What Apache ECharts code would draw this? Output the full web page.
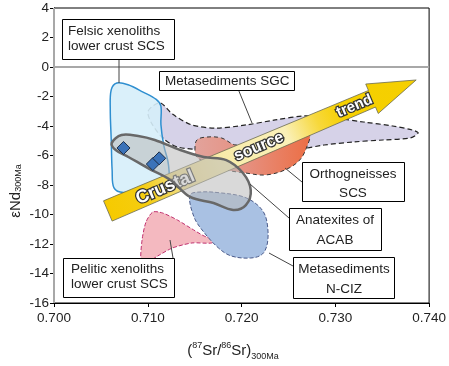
<!DOCTYPE html>
<html>
<head>
<meta charset="utf-8">
<script src="https://cdn.jsdelivr.net/npm/echarts@6/dist/echarts.min.js"></script>
<style>
  html, body { margin: 0; padding: 0; background: #fff; }
  #main { width: 449px; height: 366px; }
</style>
</head>
<body>
<div id="main"></div>
<script>
// axis ranges
var xMin = 0.700, xMax = 0.740, xStep = 0.010;
var yMin = -16, yMax = 4, yStep = 2;

// reference lines (bulk earth)
var srRef = 0.7037;
var ndRef = 0;

// fields, as [87Sr/86Sr, eNd] outlines
var metasedSGC = [
  [0.71138, -2.44], [0.71263, -3.19], [0.71472, -3.93], [0.71733, -4.14], [0.72046, -3.93],
  [0.72359, -3.59], [0.72672, -3.32], [0.72985, -3.46], [0.73299, -3.73], [0.73612, -4.00],
  [0.73820, -4.27], [0.73883, -4.47], [0.73800, -4.81], [0.73507, -4.95], [0.73194, -5.08],
  [0.72881, -5.29], [0.72568, -5.63], [0.72255, -5.83], [0.71942, -5.76], [0.71628, -5.63],
  [0.71315, -5.42], [0.71159, -4.81], [0.71033, -3.73], [0.71002, -3.05], [0.71054, -2.64]
];
var felsicXeno = [
  [0.7067, -1.08], [0.7079, -1.20], [0.7095, -1.70], [0.7109, -2.20], [0.7114, -2.65],
  [0.7114, -3.90], [0.7117, -5.30], [0.7122, -6.60], [0.7121, -7.70], [0.7102, -8.20],
  [0.7074, -8.50], [0.7064, -8.20], [0.7062, -7.00], [0.7061, -4.90], [0.7060, -2.90],
  [0.7061, -1.55]
];
var orthoSCS = [
  [0.71503, -5.63], [0.71524, -4.95], [0.71628, -4.75], [0.71785, -4.81], [0.71942, -5.29],
  [0.72150, -4.95], [0.72411, -4.61], [0.72620, -4.27], [0.72724, -4.61], [0.72704, -5.29],
  [0.72620, -6.31], [0.72463, -6.98], [0.72255, -7.32], [0.72046, -7.19], [0.71837, -6.98],
  [0.71628, -6.51], [0.71524, -6.10]
];
var peliticXeno = [
  [0.70929, -13.22], [0.70939, -11.73], [0.70981, -10.51], [0.71054, -9.83], [0.71159, -9.90],
  [0.71315, -10.37], [0.71472, -10.98], [0.71628, -11.53], [0.71785, -11.59], [0.71681, -11.93],
  [0.71472, -11.93], [0.71263, -12.27], [0.71106, -12.81], [0.71002, -13.22]
];
var metasedNCIZ = [
  [0.71451, -8.68], [0.71493, -10.17], [0.71597, -11.19], [0.71754, -12.27], [0.71889, -12.81],
  [0.72098, -12.95], [0.72223, -12.68], [0.72276, -11.93], [0.72276, -10.71], [0.72234, -9.83],
  [0.72129, -9.15], [0.71994, -8.75], [0.71785, -8.54], [0.71576, -8.47]
];
var anatexitesACAB = [
  [0.70616, -5.15], [0.70720, -4.61], [0.70898, -4.68], [0.71075, -4.95], [0.71347, -5.63],
  [0.71597, -6.10], [0.71837, -6.31], [0.72015, -7.19], [0.72098, -8.34], [0.72046, -9.36],
  [0.71910, -9.69], [0.71701, -9.22], [0.71451, -8.81], [0.71242, -7.66], [0.71002, -6.85],
  [0.70793, -6.10], [0.70658, -5.63]
];
// samples
var samples = [[0.70741, -5.49], [0.71054, -6.58], [0.71122, -6.19]];
// crustal source trend arrow: tail, tip
var trendArrow = [[0.70574, -9.76], [0.73862, -0.88]];
var trendWords = ['Crustal', 'source', 'trend'];

var chartDom = document.getElementById('main');
var myChart = echarts.init(chartDom);
var option;

var FONT = 'Liberation Sans, Arial, sans-serif';

function field(name, pts, style, z, smooth) {
  return {
    type: 'custom',
    name: name,
    z: z,
    silent: true,
    data: pts,
    renderItem: function (params, api) {
      if (params.dataIndex !== 0) return null;
      return {
        type: 'polygon',
        shape: { points: pts.map(function (p) { return api.coord(p); }), smooth: smooth == null ? 0.35 : smooth },
        style: style
      };
    }
  };
}

function arrowItem(params, api) {
  if (params.dataIndex !== 0) return null;
  var A = api.coord(trendArrow[0]);
  var B = api.coord(trendArrow[1]);
  var dx = B[0] - A[0], dy = B[1] - A[1];
  var len = Math.sqrt(dx * dx + dy * dy);
  var ux = dx / len, uy = dy / len;
  var nx = -uy, ny = ux;
  var headLen = 48, wT = 11, wN = 9, wH = 16;
  function P(a, w) { return [A[0] + ux * a + nx * w, A[1] + uy * a + ny * w]; }
  var pts = [P(0, -wT), P(len - headLen, -wN), P(len - headLen, -wH), B,
             P(len - headLen, wH), P(len - headLen, wN), P(0, wT)];
  var rot = Math.atan2(A[1] - B[1], B[0] - A[0]);
  var words = [[0.185, 1, 18], [0.49, 0, 16], [0.80, 0, 15]];
  var children = [{
    type: 'polygon',
    shape: { points: pts },
    style: {
      fill: {
        type: 'linear', global: true, x: A[0], y: A[1], x2: B[0], y2: B[1],
        colorStops: [
          { offset: 0, color: '#f6ca00' }, { offset: 0.12, color: '#f5cd10' },
          { offset: 0.24, color: '#f1df8c' }, { offset: 0.36, color: '#f8eba8' },
          { offset: 0.58, color: '#faf0b8' }, { offset: 0.68, color: '#f7d83c' },
          { offset: 0.76, color: '#f6d000' }, { offset: 1, color: '#f5cf00' }
        ]
      },
      stroke: '#6a6a50', lineWidth: 0.8
    }
  }];
  words.forEach(function (w, i) {
    var p = P(len * w[0], w[1]);
    children.push({
      type: 'text', x: p[0], y: p[1], rotation: rot,
      style: {
        text: trendWords[i], fill: '#fff', stroke: '#333', lineWidth: 2.5,
        font: 'bold ' + w[2] + 'px ' + FONT, align: 'center', verticalAlign: 'middle'
      }
    });
  });
  return { type: 'group', children: children };
}

var labelBoxes = [
  { box: [62, 19, 174, 59], lines: ['Felsic xenoliths', 'lower crust SCS'], ys: [31, 46], x: 68, align: 'left', lead: [119, 59, 119, 83] },
  { box: [159, 71, 294, 90], lines: ['Metasediments SGC'], ys: [81], x: 165, align: 'left', lead: [238.5, 90, 252, 123] },
  { box: [302, 162, 404, 201], lines: ['Orthogneisses', 'SCS'], ys: [174.5, 193], x: 353, align: 'center', lead: [285, 168, 302, 182] },
  { box: [289, 208, 381, 250], lines: ['Anatexites of', 'ACAB'], ys: [220.5, 240], x: 335, align: 'center', lead: [250, 184, 289, 218] },
  { box: [293, 257, 394, 298], lines: ['Metasediments', 'N-CIZ'], ys: [269, 289], x: 344, align: 'center', lead: [269, 253, 293, 266] },
  { box: [63, 258, 174, 297], lines: ['Pelitic xenoliths', 'lower crust SCS'], ys: [269.5, 284], x: 71, align: 'left', lead: [170, 240, 173, 258] }
];

var graphics = [];
labelBoxes.forEach(function (b) {
  graphics.push({ type: 'line', z: 20, shape: { x1: b.lead[0], y1: b.lead[1], x2: b.lead[2], y2: b.lead[3] }, style: { stroke: '#444', lineWidth: 1 } });
  graphics.push({ type: 'rect', z: 21, shape: { x: b.box[0] + 0.5, y: b.box[1] + 0.5, width: b.box[2] - b.box[0], height: b.box[3] - b.box[1] }, style: { fill: '#fff', stroke: '#000', lineWidth: 1 } });
  b.lines.forEach(function (t, i) {
    graphics.push({ type: 'text', z: 22, x: b.x, y: b.ys[i], style: { text: t, fill: '#222', font: '13.5px ' + FONT, align: b.align, verticalAlign: 'middle' } });
  });
});
graphics.push({
  type: 'text', z: 22, x: 16, y: 191, rotation: Math.PI / 2,
  style: {
    text: 'εNd{s|300Ma}', fill: '#222', font: '15px ' + FONT, align: 'center', verticalAlign: 'middle',
    rich: { s: { fontSize: 9, fontFamily: FONT, fill: '#222', verticalAlign: 'bottom', lineHeight: 12 } }
  }
});
graphics.push({
  type: 'text', z: 22, x: 233, y: 351,
  style: {
    text: '({u|87}Sr/{u|86}Sr){s|300Ma}', fill: '#222', font: '15px ' + FONT, align: 'center', verticalAlign: 'middle', lineHeight: 20,
    rich: {
      u: { fontSize: 9, fontFamily: FONT, fill: '#222', verticalAlign: 'top', lineHeight: 10 },
      s: { fontSize: 9, fontFamily: FONT, fill: '#222', verticalAlign: 'bottom', lineHeight: 10 }
    }
  }
});

option = {
  animation: false,
  grid: { left: 54, right: 12, top: 8, bottom: 63, show: true, borderColor: '#000', borderWidth: 1, backgroundColor: 'transparent' },
  xAxis: {
    type: 'value', min: xMin, max: xMax, interval: xStep,
    axisLine: { show: true, onZero: false, lineStyle: { color: '#000', width: 1 } },
    axisTick: { show: true, length: 4, lineStyle: { color: '#000' } },
    axisLabel: { color: '#222', fontSize: 13.5, fontFamily: FONT, margin: 8, formatter: function (v) { return v.toFixed(3); } },
    splitLine: { show: false }
  },
  yAxis: {
    type: 'value', min: yMin, max: yMax, interval: yStep,
    axisLine: { show: true, onZero: false, lineStyle: { color: '#000', width: 1 } },
    axisTick: { show: true, length: 4, lineStyle: { color: '#000' } },
    axisLabel: { color: '#222', fontSize: 13.5, fontFamily: FONT, margin: 5 },
    splitLine: { show: false }
  },
  graphic: graphics,
  series: [
    {
      type: 'line', data: [], z: 1, silent: true,
      markLine: {
        silent: true, symbol: 'none', label: { show: false },
        lineStyle: { color: '#a8a8a8', width: 2, type: 'solid' },
        data: [{ xAxis: srRef }, { yAxis: ndRef }]
      }
    },
    field('Metasediments SGC', metasedSGC, { fill: '#d6d2e8', stroke: '#222', lineWidth: 1.2, lineDash: [5, 3] }, 2, 0.3),
    field('Felsic xenoliths', felsicXeno, { fill: 'rgba(214,238,250,0.9)', stroke: '#2f8fd0', lineWidth: 1.5 }, 3, 0.35),
    field('Orthogneisses SCS', orthoSCS, {
      fill: { type: 'linear', x: 0, y: 0, x2: 1, y2: 0, colorStops: [{ offset: 0, color: '#e2a39c' }, { offset: 0.45, color: '#e69080' }, { offset: 1, color: '#ec6e44' }] },
      stroke: '#333', lineWidth: 1, lineDash: [4, 3]
    }, 4, 0.35),
    field('Pelitic xenoliths', peliticXeno, { fill: '#f4b9c0', stroke: '#c0306e', lineWidth: 1, lineDash: [4, 2] }, 4, 0.25),
    field('Metasediments N-CIZ', metasedNCIZ, { fill: '#a9c1e3', stroke: '#4a5a8a', lineWidth: 1, lineDash: [4, 2] }, 5, 0.35),
    { type: 'custom', name: 'Crustal source trend', z: 6, silent: true, data: trendArrow, renderItem: arrowItem },
    field('Anatexites of ACAB', anatexitesACAB, { fill: 'rgba(185,185,185,0.55)', stroke: '#686868', lineWidth: 2.5 }, 7, 0.35),
    {
      type: 'scatter', name: 'samples', z: 8, data: samples, symbol: 'diamond', symbolSize: 13,
      itemStyle: { color: '#3b73b9', borderColor: '#1c2f4a', borderWidth: 1, opacity: 1 }
    }
  ]
};

option && myChart.setOption(option);
</script>
</body>
</html>
